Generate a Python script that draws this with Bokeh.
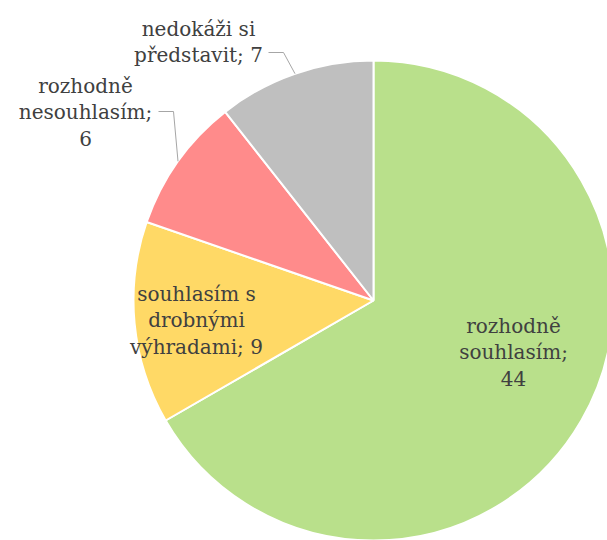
import math
import textwrap
from bokeh.plotting import figure
from bokeh.models import Range1d
from bokeh.core.properties import value
from bokeh.embed import file_html
from bokeh.resources import INLINE

# ---- data ----
categories = ["rozhodně souhlasím", "souhlasím s drobnými výhradami",
              "rozhodně nesouhlasím", "nedokáži si představit"]
values = [44, 9, 6, 7]
colors = ["#B9E08B", "#FFD966", "#FF8B8B", "#BFBFBF"]

# ---- layout (page pixel coordinates) ----
W, H = 607, 540
OFF = 0
PAGE_H = 540
CX, CY, R = 373, 300, 240
FONT = "DejaVu Serif"
FSIZE = "20px"
TXT = "#404040"
LINE_GAP = 26.7
wrap_widths = [10, 12, 12, 13]
label_anchor = [(513, 325), (196, 293), (85, 85), (198, 28)]  # centre x, first baseline y
leader_start = [None, None, [(158, 111), (173, 111)], [(268, 52), (283, 52)]]


def py(y):
    return PAGE_H - y


p = figure(width=W, height=H, output_backend="svg", toolbar_location=None,
           x_range=Range1d(OFF, OFF + W), y_range=Range1d(PAGE_H - OFF - H, PAGE_H - OFF),
           min_border=0)
p.axis.visible = False
p.grid.visible = False
p.outline_line_color = None
p.background_fill_color = "white"
p.border_fill_color = "white"

total = sum(values)
start = math.pi / 2
starts, ends, mids = [], [], []
for v in values:
    span = 2 * math.pi * v / total
    starts.append(start)
    ends.append(start - span)
    mids.append(start - span / 2)
    start -= span

p.wedge(x=[CX] * len(values), y=[py(CY)] * len(values), radius=R,
        start_angle=starts, end_angle=ends, direction="clock",
        fill_color=colors, line_color="white", line_width=2)

# leader lines
for i, pts in enumerate(leader_start):
    if pts is None:
        continue
    ex = CX + R * math.cos(mids[i])
    ey = CY - R * math.sin(mids[i])
    xs = [q[0] for q in pts] + [ex]
    ys = [py(q[1]) for q in pts] + [py(ey)]
    p.line(xs, ys, line_color="#A6A6A6", line_width=1)

# labels
for i, (cat, v) in enumerate(zip(categories, values)):
    lines = textwrap.wrap(f"{cat}; {v}", wrap_widths[i])
    ax, ay = label_anchor[i]
    p.text(x=[ax] * len(lines), y=[py(ay + k * LINE_GAP) for k in range(len(lines))],
           text=lines, text_font=value(FONT), text_font_size=FSIZE,
           text_color=TXT, text_align="center", text_baseline="alphabetic")

open("out.html", "w").write(file_html(p, INLINE))
